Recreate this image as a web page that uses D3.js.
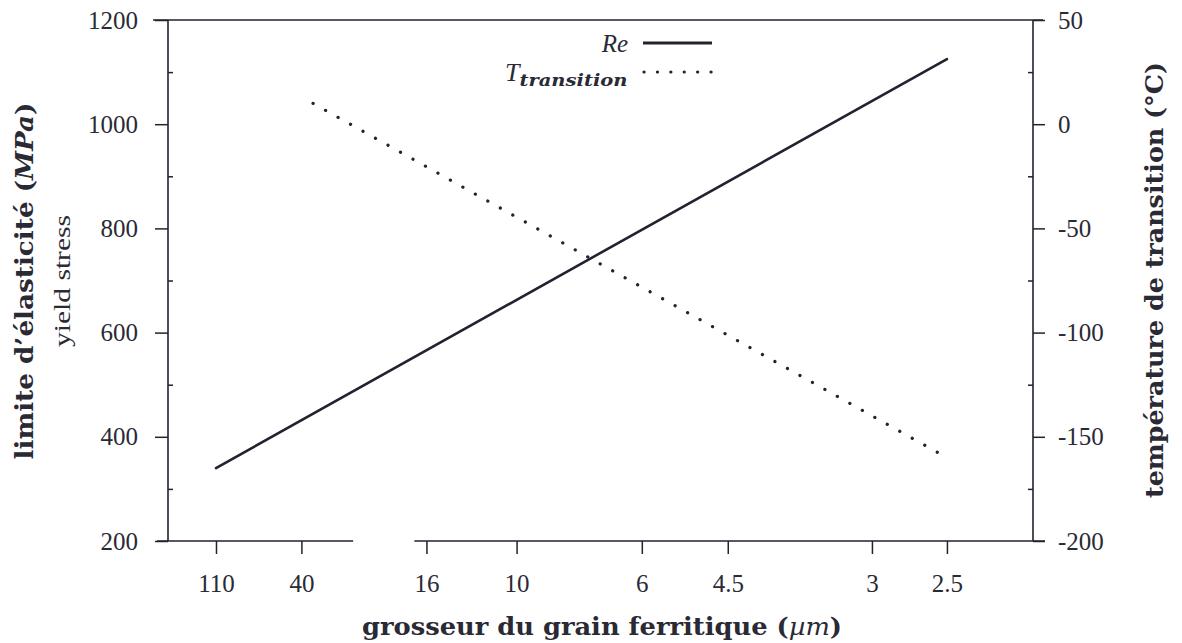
<!DOCTYPE html>
<html>
<head>
<meta charset="utf-8">
<script src="https://cdn.jsdelivr.net/npm/d3@7"></script>
<style>
  body { margin: 0; background: #fff; }
  svg { display: block; }
  text { fill: #2a2a35; font-family: "Liberation Serif", "DejaVu Serif", serif; }
</style>
</head>
<body>
<div id="chart"></div>
<script>
// grain sizes in micrometres shown on the bottom axis
const grainTicks = [110, 40, 16, 10, 6, 4.5, 3, 2.5];
// yield stress Re (MPa) vs grain size
const reGrain = [110, 2.5];
const reValues = [340, 1125];
// transition temperature (°C) vs grain size
const tGrain = [36, 2.5];
const tValues = [10, -160];
// axis ticks
const leftTicks = [200, 400, 600, 800, 1000, 1200];
const leftMinor = [300, 500, 700, 900, 1100];
const rightTicks = [-200, -150, -100, -50, 0, 50];
const rightMinor = [-175, -125, -75, -25, 25];
// break in the bottom frame line (µm)
const bottomGap = [26, 17.2];

window.onload = function () {
    const W = 1182, H = 643;
    const margin = { top: 20, right: 149, bottom: 102, left: 168 };
    const width = W - margin.left - margin.right;
    const height = H - margin.top - margin.bottom;
    const ink = '#222230';
    const titleFont = '"DejaVu Serif", serif';

    // Hall-Petch axis: d^-1/2 in mm^-1/2
    const hp = d => 1 / Math.sqrt(d / 1000);

    const svg = d3.select('#chart')
        .append('svg')
        .attr('width', W)
        .attr('height', H)
        .append('g')
        .attr('transform', `translate(${margin.left},${margin.top})`);

    const xScale = d3.scaleLinear().domain([1.9, 22]).range([0, width]);
    const yLeft = d3.scaleLinear().domain([200, 1200]).range([height, 0]);
    const yRight = d3.scaleLinear().domain([-200, 50]).range([height, 0]);

    // frame
    const frame = svg.append('g').attr('stroke', ink).attr('stroke-width', 1.6).attr('fill', 'none');
    frame.append('line').attr('x1', -15).attr('x2', width + 10).attr('y1', 0).attr('y2', 0);
    frame.append('line').attr('x1', -11).attr('x2', xScale(hp(bottomGap[0])))
        .attr('y1', height).attr('y2', height);
    frame.append('line').attr('x1', xScale(hp(bottomGap[1]))).attr('x2', width + 12)
        .attr('y1', height).attr('y2', height);
    frame.append('line').attr('x1', 0).attr('x2', 0).attr('y1', 0).attr('y2', height);
    frame.append('line').attr('x1', width).attr('x2', width).attr('y1', 0).attr('y2', height);

    // left axis
    const gl = svg.append('g')
        .call(d3.axisLeft(yLeft).tickValues(leftTicks).tickSize(13).tickPadding(17).tickFormat(d3.format('d')));
    gl.select('.domain').remove();
    svg.append('g')
        .call(d3.axisLeft(yLeft).tickValues(leftMinor).tickSize(-5).tickFormat(''))
        .select('.domain').remove();

    // right axis
    const gr = svg.append('g')
        .attr('transform', `translate(${width},0)`)
        .call(d3.axisRight(yRight).tickValues(rightTicks).tickSize(12).tickPadding(13).tickFormat(d => String(d)));
    gr.select('.domain').remove();
    svg.append('g')
        .attr('transform', `translate(${width},0)`)
        .call(d3.axisRight(yRight).tickValues(rightMinor).tickSize(-5).tickFormat(''))
        .select('.domain').remove();

    // bottom axis
    const gb = svg.append('g')
        .attr('transform', `translate(0,${height})`)
        .call(d3.axisBottom(xScale).tickValues(grainTicks.map(hp)).tickSize(13).tickPadding(20)
            .tickFormat((d, i) => String(grainTicks[i])));
    gb.select('.domain').remove();

    svg.selectAll('.tick line').attr('stroke', ink).attr('stroke-width', 1.5);
    svg.selectAll('.tick text')
        .style('font-family', '"Liberation Serif", serif')
        .style('font-size', '25px')
        .attr('fill', '#2a2a35');

    // lines
    const reLine = d3.line()
        .x(d => xScale(hp(d[0])))
        .y(d => yLeft(d[1]));
    svg.append('path')
        .datum(d3.zip(reGrain, reValues))
        .attr('d', reLine)
        .attr('fill', 'none')
        .attr('stroke', ink)
        .attr('stroke-width', 2.6)
        .attr('stroke-linecap', 'round');

    const tLine = d3.line()
        .x(d => xScale(hp(d[0])))
        .y(d => yRight(d[1]));
    svg.append('path')
        .datum(d3.zip(tGrain, tValues))
        .attr('d', tLine)
        .attr('fill', 'none')
        .attr('stroke', ink)
        .attr('stroke-width', 3.2)
        .attr('stroke-linecap', 'round')
        .attr('stroke-dasharray', '0.1 14.2');

    // legend
    const lg = svg.append('g');
    lg.append('text')
        .attr('x', 460).attr('y', 32)
        .attr('text-anchor', 'end')
        .style('font-size', '25px')
        .style('font-style', 'italic')
        .text('Re');
    lg.append('line')
        .attr('x1', 475).attr('x2', 544).attr('y1', 23).attr('y2', 23)
        .attr('stroke', ink).attr('stroke-width', 3);
    const tt = lg.append('text')
        .attr('x', 337).attr('y', 61)
        .style('font-size', '26px')
        .style('font-style', 'italic');
    tt.append('tspan').text('T');
    tt.append('tspan')
        .attr('dy', 5)
        .style('font-family', titleFont)
        .style('font-size', '16px')
        .style('font-weight', 'bold')
        .attr('textLength', 108)
        .attr('lengthAdjust', 'spacingAndGlyphs')
        .text('transition');
    lg.append('line')
        .attr('x1', 476).attr('x2', 546).attr('y1', 52).attr('y2', 52)
        .attr('stroke', ink).attr('stroke-width', 3.2)
        .attr('stroke-linecap', 'round')
        .attr('stroke-dasharray', '0.1 13.3');

    // axis titles
    const bt = svg.append('text')
        .attr('x', 434).attr('y', height + 94)
        .attr('text-anchor', 'middle')
        .attr('textLength', 480)
        .attr('lengthAdjust', 'spacingAndGlyphs')
        .style('font-family', titleFont)
        .style('font-size', '24px')
        .style('font-weight', 'bold');
    bt.append('tspan').text('grosseur du grain ferritique (');
    bt.append('tspan').style('font-style', 'italic').style('font-weight', 'normal').text('µm');
    bt.append('tspan').text(')');

    const lt = svg.append('text')
        .attr('transform', `translate(${33 - margin.left},${281 - margin.top}) rotate(-90)`)
        .attr('text-anchor', 'middle')
        .attr('textLength', 357)
        .attr('lengthAdjust', 'spacingAndGlyphs')
        .style('font-family', titleFont)
        .style('font-size', '24px')
        .style('font-weight', 'bold');
    lt.append('tspan').text('limite d\u2019élasticité (');
    lt.append('tspan').style('font-style', 'italic').text('MPa');
    lt.append('tspan').text(')');

    svg.append('text')
        .attr('transform', `translate(${70 - margin.left},${281 - margin.top}) rotate(-90)`)
        .attr('text-anchor', 'middle')
        .attr('textLength', 132)
        .attr('lengthAdjust', 'spacingAndGlyphs')
        .style('font-size', '24px')
        .text('yield stress');

    svg.append('text')
        .attr('transform', `translate(${1163 - margin.left},${280 - margin.top}) rotate(-90)`)
        .attr('text-anchor', 'middle')
        .attr('textLength', 436)
        .attr('lengthAdjust', 'spacingAndGlyphs')
        .style('font-family', titleFont)
        .style('font-size', '24px')
        .style('font-weight', 'bold')
        .text('température de transition (°C)');
};
</script>
</body>
</html>
